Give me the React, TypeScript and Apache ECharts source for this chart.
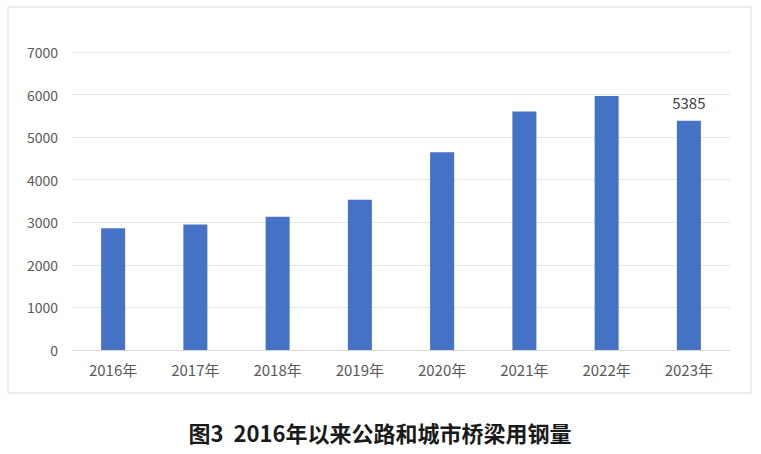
import React, { useEffect, useRef } from "react";
import * as echarts from "echarts";

const categories = ["2016年", "2017年", "2018年", "2019年", "2020年", "2021年", "2022年", "2023年"];
const values = [2860, 2950, 3130, 3530, 4645, 5600, 5965, 5385];
const labelledIndex = 7;
const title = "图3  2016年以来公路和城市桥梁用钢量";

export default function App() {
  const ref = useRef<HTMLDivElement>(null);
  useEffect(() => {
    const chart = echarts.init(ref.current!, null, { renderer: "svg" });
    chart.setOption({
      animation: false,
      backgroundColor: "#ffffff",
      grid: { left: 72, right: 31, top: 52, bottom: 104 },
      xAxis: {
        type: "category",
        data: categories,
        axisLine: { lineStyle: { color: "#d9d9d9" } },
        axisTick: { show: false },
        axisLabel: { color: "#595959", fontSize: 15, margin: 12, fontFamily: "Noto Sans CJK SC" },
      },
      yAxis: {
        type: "value",
        min: 0,
        max: 7000,
        interval: 1000,
        axisLine: { show: false },
        axisTick: { show: false },
        splitLine: { lineStyle: { color: "#e6e6e6" } },
        axisLabel: {
          color: "#595959",
          fontSize: 14,
          margin: 14,
          fontFamily: "Noto Sans CJK SC",
          formatter: (v: number) => String(v),
        },
      },
      series: [
        {
          type: "bar",
          data: values.map((v, i) =>
            i === labelledIndex
              ? { value: v, label: { show: true, position: "top", distance: 11, color: "#404040", fontSize: 15, fontFamily: "Noto Sans CJK SC" } }
              : v
          ),
          barWidth: 24,
          itemStyle: { color: "#4472c4" },
        },
      ],
      graphic: [
        {
          type: "rect",
          shape: { x: 8, y: 7, width: 743, height: 386 },
          style: { fill: "none", stroke: "#d9d9d9", lineWidth: 1 },
          silent: true,
          z: -1,
        },
        {
          type: "text",
          x: 380,
          y: 432,
          style: {
            text: title,
            fill: "#1a1a1a",
            font: "bold 22px 'Noto Sans CJK SC'",
            textAlign: "center",
            textVerticalAlign: "middle",
          },
        },
      ],
    });
    return () => chart.dispose();
  }, []);
  return <div ref={ref} style={{ position: "fixed", left: 0, top: 0, width: 761, height: 454 }} />;
}
